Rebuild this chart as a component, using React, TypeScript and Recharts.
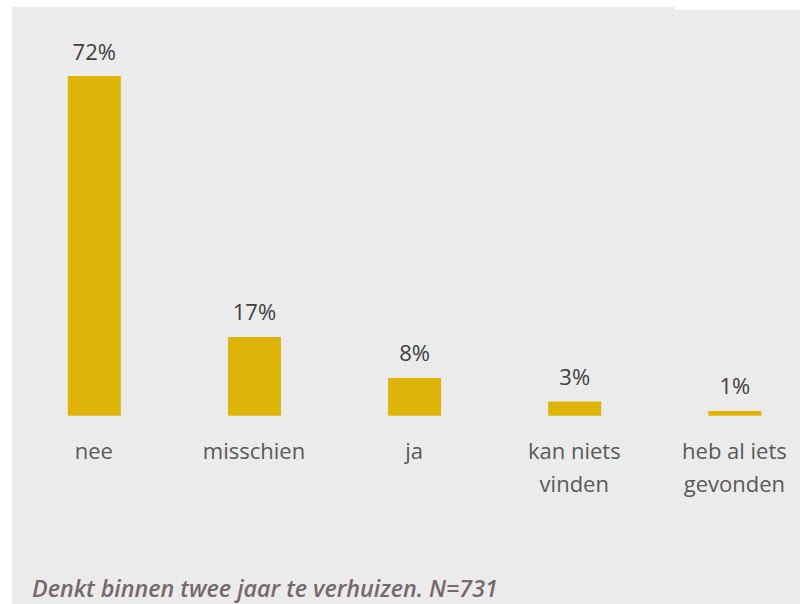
import React from "react";
import { BarChart, Bar, XAxis, YAxis, LabelList } from "recharts";

const categories = ["nee", "misschien", "ja", "kan niets\nvinden", "heb al iets\ngevonden"];
const values = [72, 16.7, 8, 3, 1];
const footnote = "Denkt binnen twee jaar te verhuizen. N=731";

const data = categories.map((c, i) => ({ name: c, value: values[i] }));

const FONT = "'Open Sans', 'Noto Sans', sans-serif";

const Tick = (props: any) => {
  const { x, y, payload } = props;
  const lines = String(payload.value).split("\n");
  return (
    <g>
      {lines.map((l: string, i: number) => (
        <text
          key={i}
          x={x}
          y={y + 43 + i * 33}
          textAnchor="middle"
          fill="#595959"
          fontSize={22}
          fontFamily={FONT}
        >
          {l}
        </text>
      ))}
    </g>
  );
};

export default function App() {
  return (
    <div style={{ position: "absolute", left: 0, top: 0, width: 800, height: 604, overflow: "hidden", background: "#fff" }}>
      <div style={{ position: "absolute", left: 12, top: 7, right: 0, bottom: 0, background: "#ebebeb" }} />
      <div style={{ position: "absolute", left: 675, top: 7, width: 125, height: 3, background: "#fff" }} />
      <div style={{ position: "absolute", left: 0, top: 0 }}>
        <BarChart
          width={830}
          height={604}
          data={data}
          margin={{ top: 76, left: 13.8, right: 15.5, bottom: 128.3 }}
          barSize={53}
        >
          <XAxis
            dataKey="name"
            axisLine={false}
            tickLine={false}
            tickSize={0}
            tickMargin={0}
            height={60}
            interval={0}
            tick={<Tick />}
          />
          <YAxis hide domain={[0, 72]} />
          <Bar dataKey="value" fill="#dfb408" isAnimationActive={false}>
            <LabelList
              dataKey="value"
              position="top"
              offset={16.5}
              formatter={(v: any) => `${Math.round(Number(v))}%`}
              fill="#404040"
              fontSize={22}
              fontFamily={FONT}
            />
          </Bar>
        </BarChart>
      </div>
      <div
        style={{
          position: "absolute",
          left: 32,
          top: 575,
          fontFamily: FONT,
          fontStyle: "italic",
          fontWeight: 600,
          fontSize: 23.3,
          lineHeight: "26px",
          color: "#76696b",
          whiteSpace: "nowrap",
        }}
      >
        {footnote}
      </div>
    </div>
  );
}
